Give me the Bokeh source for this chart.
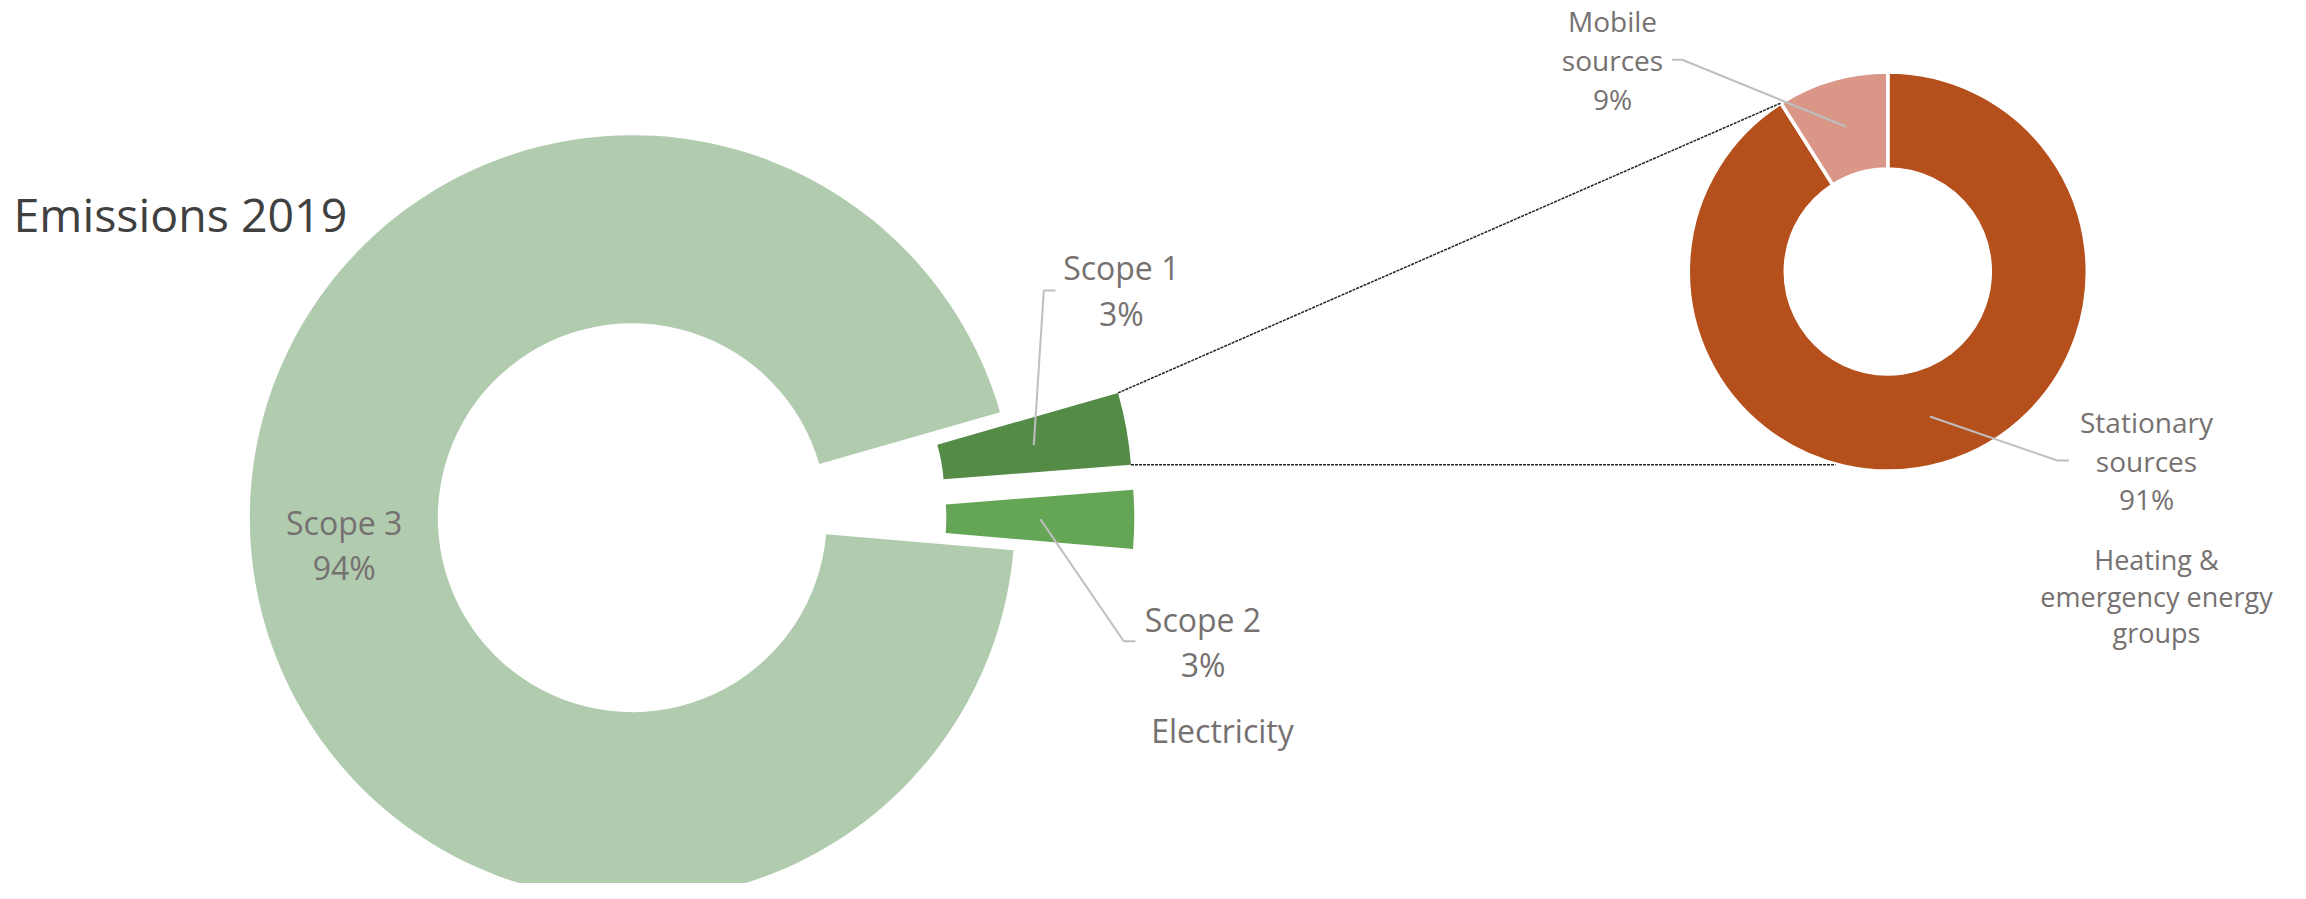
import math
from bokeh.plotting import figure
from bokeh.models import Range1d, ColumnDataSource
from bokeh.core.properties import value
from bokeh.embed import file_html
from bokeh.resources import INLINE

# ---------------- data ----------------
title_text = "Emissions 2019"

main_categories = ["Scope 1", "Scope 2", "Scope 3"]
main_values = [3.2, 2.6, 94.2]
main_notes = ["", "Electricity", ""]
main_colors = ["#548B46", "#64A556", "#B0CBAE"]
main_exploded = [True, True, False]

sub_categories = ["Stationary sources", "Mobile sources"]
sub_values = [91, 9]
sub_notes = [["Heating &", "emergency energy", "groups"], []]
sub_colors = ["#B5501C", "#DA9687"]

# ---------------- layout (reference pixels, origin top-left) ----------------
W, H = 2306, 899
FIG_W, FIG_H = 2290, 883
MAIN_C = (631.8, 517.2)
MAIN_R, MAIN_r = 382.5, 194.5
MAIN_START = 16.0           # degrees, first slice drawn clockwise from here
EXPL_DIST, EXPL_R, EXPL_r = 139.0, 363.0, 175.0

SUB_C = (1887.3, 271.0)
SUB_R, SUB_r = 199.5, 102.5
SUB_START = 90.0

LABEL_COLOR = "#767171"
TITLE_COLOR = "#404040"
FONT = "Open Sans"
TEXT_SHIFT = 0.41           # baseline correction, in em

# label placement: (center x, first baseline y, line spacing, font px)
main_label_pos = [(1120.8, 280.0, 46.5, 32), (1202.5, 631.7, 45.0, 32), (343.7, 535.0, 45.0, 32)]
main_note_pos = [None, (1222.0, 743.0, 45.0, 32), None]
sub_label_pos = [(2146.0, 433.3, 38.3, 28), (1612.0, 31.7, 39.0, 28)]
sub_note_pos = [(2156.0, 570.0, 36.7, 27), None]
title_pos = (13.0, 233.0, 0, 46.5)
# leader lines: (label-side end, elbow)
main_leaders = [((1055.0, 290.0), (1043.3, 290.0)), ((1135.0, 640.7), (1123.3, 640.7)), None]
sub_leaders = [((2068.3, 460.0), (2056.7, 460.0)), ((1671.7, 59.3), (1681.7, 59.3))]
SERIES_LINE_END_X = 1835.0


def Y(yref):
    return H - yref


def slice_angles(values, start_deg):
    total = float(sum(values))
    out = []
    a = start_deg
    for v in values:
        span = v / total * 360.0
        out.append((a - span, a))
        a -= span
    return out


p = figure(width=FIG_W, height=FIG_H, output_backend="svg", toolbar_location=None,
           x_range=Range1d(0, FIG_W), y_range=Range1d(H - FIG_H, H),
           x_axis_type=None, y_axis_type=None, min_border=0,
           outline_line_color=None, background_fill_color="white",
           border_fill_color="white")
p.grid.visible = False

# ---------------- main donut ----------------
main_ang = slice_angles(main_values, MAIN_START)
mx, my, mri, mro, msa, mea, mcol = [], [], [], [], [], [], []
main_geom = []
for (a0, a1), expl, col in zip(main_ang, main_exploded, main_colors):
    mid = math.radians((a0 + a1) / 2)
    if expl:
        cx = MAIN_C[0] + EXPL_DIST * math.cos(mid)
        cy = Y(MAIN_C[1]) + EXPL_DIST * math.sin(mid)
        ri, ro = EXPL_r, EXPL_R
    else:
        cx, cy = MAIN_C[0], Y(MAIN_C[1])
        ri, ro = MAIN_r, MAIN_R
    mx.append(cx); my.append(cy); mri.append(ri); mro.append(ro)
    msa.append(math.radians(a0)); mea.append(math.radians(a1)); mcol.append(col)
    main_geom.append((cx, cy, ri, ro, a0, a1))

p.annular_wedge(x="x", y="y", inner_radius="ri", outer_radius="ro",
                start_angle="sa", end_angle="ea", fill_color="c", line_color=None,
                source=ColumnDataSource(dict(x=mx, y=my, ri=mri, ro=mro, sa=msa, ea=mea, c=mcol)))

# ---------------- sub donut ----------------
sub_ang = slice_angles(sub_values, SUB_START)
sub_geom = []
sx, sy, ssa, sea = [], [], [], []
for (a0, a1) in sub_ang:
    sx.append(SUB_C[0]); sy.append(Y(SUB_C[1]))
    ssa.append(math.radians(a0)); sea.append(math.radians(a1))
    sub_geom.append((SUB_C[0], Y(SUB_C[1]), SUB_r, SUB_R, a0, a1))

p.annular_wedge(x="x", y="y", inner_radius=SUB_r, outer_radius=SUB_R,
                start_angle="sa", end_angle="ea", fill_color="c",
                line_color="white", line_width=3.5,
                source=ColumnDataSource(dict(x=sx, y=sy, sa=ssa, ea=sea, c=sub_colors)))

# ---------------- series (dashed) lines ----------------
s1 = main_geom[0]
top_corner = (s1[0] + s1[3] * math.cos(math.radians(s1[5])), s1[1] + s1[3] * math.sin(math.radians(s1[5])))
bot_corner = (s1[0] + s1[3] * math.cos(math.radians(s1[4])), s1[1] + s1[3] * math.sin(math.radians(s1[4])))
mob = sub_geom[1]
mob_edge = (mob[0] + mob[3] * math.cos(math.radians(mob[5])), mob[1] + mob[3] * math.sin(math.radians(mob[5])))
p.multi_line(xs=[[top_corner[0], mob_edge[0]], [bot_corner[0], SERIES_LINE_END_X]],
             ys=[[top_corner[1], mob_edge[1]], [bot_corner[1], bot_corner[1]]],
             line_color="#222222", line_width=1.5, line_dash="3 1")

# ---------------- leader lines ----------------
lxs, lys = [], []
for geom, lead in list(zip(main_geom, main_leaders)) + list(zip(sub_geom, sub_leaders)):
    if lead is None:
        continue
    cx, cy, ri, ro, a0, a1 = geom
    mid = math.radians((a0 + a1) / 2)
    rm = (ri + ro) / 2
    px_, py_ = cx + rm * math.cos(mid), cy + rm * math.sin(mid)
    (ex, ey), (bx, by) = lead
    lxs.append([ex, bx, px_]); lys.append([Y(ey), Y(by), py_])
p.multi_line(xs=lxs, ys=lys, line_color="#BFBFBF", line_width=2)

# ---------------- texts ----------------
def add_lines(lines, pos, color=LABEL_COLOR, align="center"):
    x0, y0, dy, fs = pos
    p.text(x=[x0] * len(lines),
           y=[Y(y0 + i * dy - TEXT_SHIFT * fs) for i in range(len(lines))], text=lines,
           text_font=value(FONT), text_font_size=value(f"{fs}px"), text_color=color,
           text_align=align, text_baseline="alphabetic")

total_main = sum(main_values)
for cat, v, pos, note, npos in zip(main_categories, main_values, main_label_pos, main_notes, main_note_pos):
    add_lines([cat, f"{round(v / total_main * 100):.0f}%"], pos)
    if note:
        add_lines([note], npos)

total_sub = sum(sub_values)
for cat, v, pos, note, npos in zip(sub_categories, sub_values, sub_label_pos, sub_notes, sub_note_pos):
    add_lines(cat.split(" ") + [f"{round(v / total_sub * 100):.0f}%"], pos)
    if note:
        add_lines(note, npos)

add_lines([title_text], title_pos, color=TITLE_COLOR, align="left")

open("out.html", "w").write(file_html(p, INLINE))
